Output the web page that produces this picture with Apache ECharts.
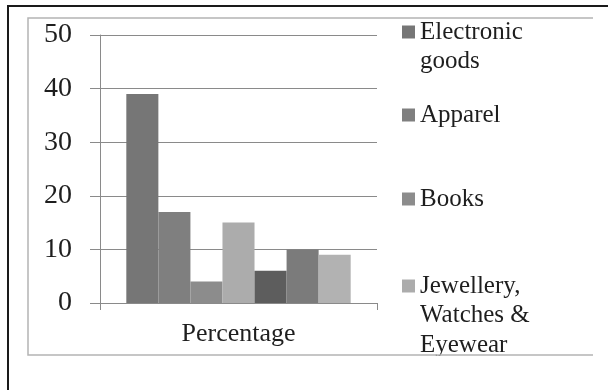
<!DOCTYPE html>
<html>
<head>
<meta charset="utf-8">
<script src="https://cdn.jsdelivr.net/npm/echarts@6/dist/echarts.min.js"></script>
<style>
  html, body { margin: 0; padding: 0; background: #fff; }
  #chart { width: 608px; height: 390px; }
</style>
</head>
<body>
<div id="chart"></div>
<script>
// Online shopping categories, share of respondents (%)
const categories = ['Percentage'];
const seriesNames = [
  'Electronic goods',
  'Apparel',
  'Books',
  'Jewellery, Watches & Eyewear',
  'Series 5',
  'Series 6',
  'Series 7'
];
const legendLabels = [
  'Electronic\ngoods',
  'Apparel',
  'Books',
  'Jewellery,\nWatches &\nEyewear'
];
const seriesValues = [39, 17, 4, 15, 6, 10, 9];
const seriesColors = ['#767676', '#7f7f7f', '#8c8c8c', '#acacac', '#5d5d5d', '#7b7b7b', '#b2b2b2'];
const yTicks = { min: 0, max: 50, interval: 10 };

const FONT = '"Liberation Serif", "DejaVu Serif", serif';
const LINE = 29.5;

const series = seriesNames.map((name, i) => ({
  name: name,
  type: 'bar',
  data: [seriesValues[i]],
  barGap: '0%',
  barCategoryGap: '19%',
  itemStyle: { color: seriesColors[i] },
  emphasis: { disabled: true }
}));

// One legend block per entry so every entry sits in its own slot.
// Leading blank lines keep the icon level with the first text line,
// since the icon is centred on the whole text block.
const iconCentres = [32, 115, 199, 286];
const legends = legendLabels.map((label, i) => {
  const lines = label.split('\n').length;
  const text = '\n'.repeat(lines - 1) + label;
  const boxH = (2 * lines - 1) * LINE;
  return {
    data: [seriesNames[i]],
    left: 402,
    top: iconCentres[i] - boxH / 2,
    padding: 0,
    itemWidth: 13,
    itemHeight: 13,
    icon: 'rect',
    selectedMode: false,
    formatter: () => text,
    textStyle: {
      fontFamily: FONT,
      fontSize: 25,
      color: '#1e1e1e',
      lineHeight: LINE
    }
  };
});

const chart = echarts.init(document.getElementById('chart'), null, { renderer: 'canvas' });
chart.setOption({
  animation: false,
  backgroundColor: '#ffffff',
  grid: { left: 100, right: 231, top: 35, bottom: 87, containLabel: false },
  legend: legends,
  xAxis: {
    type: 'category',
    data: categories,
    boundaryGap: true,
    axisLine: { lineStyle: { color: '#8a8a8a', width: 1 } },
    axisTick: { show: true, length: 7, lineStyle: { color: '#8a8a8a' } },
    axisLabel: { fontFamily: FONT, fontSize: 26, color: '#1e1e1e', margin: 18 }
  },
  yAxis: {
    type: 'value',
    min: yTicks.min,
    max: yTicks.max,
    interval: yTicks.interval,
    axisLine: { show: true, lineStyle: { color: '#8a8a8a', width: 1 } },
    axisTick: { show: true, length: 10, lineStyle: { color: '#8a8a8a' } },
    axisLabel: { fontFamily: FONT, fontSize: 28, color: '#1e1e1e', margin: 28 },
    splitLine: { show: true, lineStyle: { color: '#8a8a8a', width: 1 } }
  },
  series: series,
  graphic: [
    // hide legend text spilling below the chart area
    {
      type: 'rect', z: 99, silent: true,
      shape: { x: 380, y: 356, width: 228, height: 34 },
      style: { fill: '#ffffff' }
    },
    // chart-area frame: top, left and bottom edges
    {
      type: 'polyline', z: 100, silent: true,
      shape: { points: [[593, 18], [28, 18], [28, 355], [593, 355]] },
      style: { fill: null, stroke: '#b4b4b4', lineWidth: 1.5 }
    },
    // outer border
    {
      type: 'line', z: 101, silent: true,
      shape: { x1: 7, y1: 6, x2: 608, y2: 6 },
      style: { stroke: '#1a1a1a', lineWidth: 2 }
    },
    {
      type: 'line', z: 101, silent: true,
      shape: { x1: 8, y1: 5, x2: 8, y2: 390 },
      style: { stroke: '#1a1a1a', lineWidth: 2 }
    }
  ]
});
</script>
</body>
</html>
